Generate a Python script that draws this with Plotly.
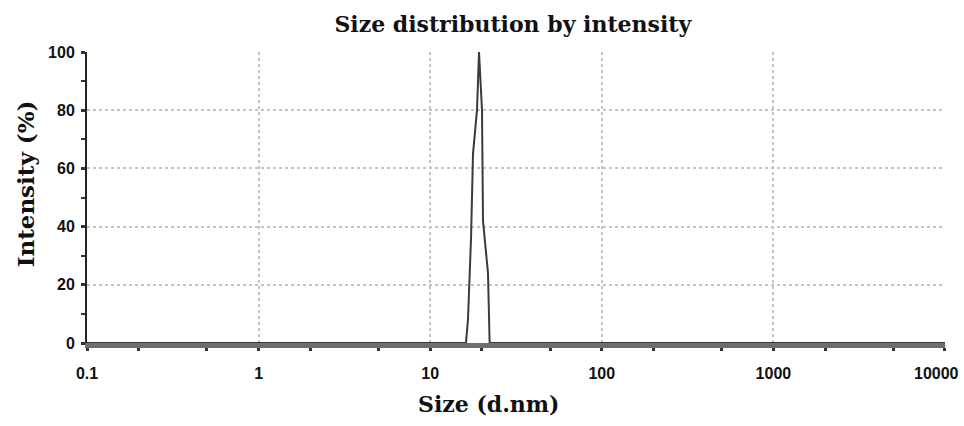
import plotly.graph_objects as go

# Data
size_nm = [0.1, 16.16, 16.6, 17.3, 17.76, 18.74, 19.25, 20.04, 20.31, 21.72, 22.2, 10000]
intensity = [0, 0, 8, 36, 65, 80, 100, 80, 42, 24, 0, 0]

x_tickvals = [0.1, 1, 10, 100, 1000, 10000]
x_ticktext = ["0.1", "1", "10", "100", "1000", "10000"]
y_tickvals = [0, 20, 40, 60, 80, 100]

title_text = "Size distribution by intensity"
x_title = "Size (d.nm)"
y_title = "Intensity (%)"

fig = go.Figure()
fig.add_trace(go.Scatter(
    x=size_nm, y=intensity, mode="lines",
    line=dict(color="#3a3a3a", width=2),
    cliponaxis=False, showlegend=False,
))

serif = "DejaVu Serif, serif"
sans = "Liberation Sans, Arial, sans-serif"
tickfont = dict(family=sans, size=16, color="#111", weight="bold")

# last tick label sits flush with the right edge, as in the reference
x_labels_shown = x_ticktext[:-1] + [""]

fig.update_layout(
    width=964, height=426,
    margin=dict(l=87, r=19, t=52, b=83, autoexpand=False),
    paper_bgcolor="white", plot_bgcolor="white",
    title=dict(text="<b>" + title_text + "</b>", x=0.532, xanchor="center",
               y=0.943, yanchor="middle",
               font=dict(family=serif, size=22, color="#111")),
    xaxis=dict(
        type="log", range=[-1, 4.0001], automargin=False,
        tickvals=x_tickvals, ticktext=x_labels_shown,
        tickfont=tickfont,
        ticklabelstandoff=9,
        showgrid=True, gridcolor="#c4c4c4", griddash="dot", gridwidth=2,
        showline=True, linecolor="#6e6e6e", linewidth=5,
        ticks="outside", ticklen=3, tickwidth=2, tickcolor="#333",
        minor=dict(ticks="outside", ticklen=3, tickwidth=3, tickcolor="#333",
                   showgrid=False),
        zeroline=False,
    ),
    yaxis=dict(
        range=[0, 100], tickvals=y_tickvals, automargin=False,
        tickfont=tickfont,
        ticklabelstandoff=3,
        showgrid=True, gridcolor="#c4c4c4", griddash="dot", gridwidth=2,
        showline=True, linecolor="#222", linewidth=2,
        ticks="outside", ticklen=4, tickwidth=3, tickcolor="#333",
        minor=dict(dtick=10, ticks="outside", ticklen=4, tickwidth=2,
                   tickcolor="#333", showgrid=False),
        zeroline=False,
    ),
    annotations=[
        dict(text=x_ticktext[-1], xref="x", yref="y", x=4, y=0,
             xanchor="center", yanchor="middle", xshift=-8, yshift=-30,
             showarrow=False, font=tickfont),
        dict(text="<b>" + x_title + "</b>", xref="paper", yref="paper",
             x=0.4685, y=-0.211, xanchor="center", yanchor="middle", showarrow=False,
             font=dict(family=serif, size=22, color="#111")),
        dict(text="<b>" + y_title + "</b>", xref="paper", yref="paper",
             x=-0.072, y=0.546, xanchor="center", yanchor="middle", showarrow=False,
             textangle=-90, font=dict(family=serif, size=23, color="#111")),
    ],
)

fig.write_html("out.html")
